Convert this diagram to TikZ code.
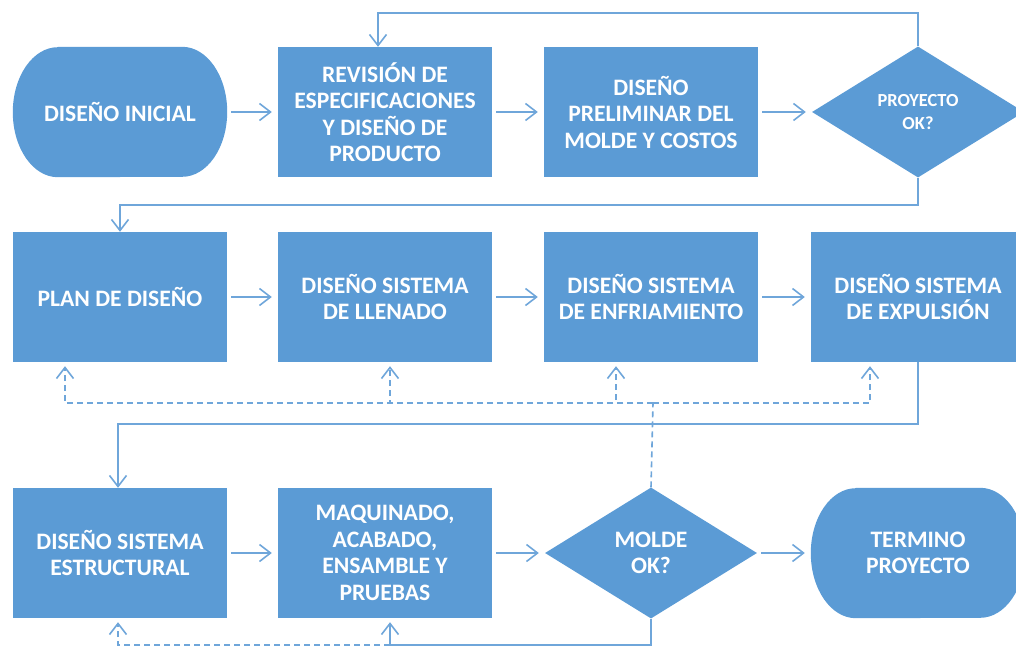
\documentclass[tikz,border=0pt]{standalone}
\usepackage{fontspec}
\setmainfont{Carlito}
\usetikzlibrary{arrows.meta,shapes.geometric,backgrounds}
\definecolor{flowblue}{HTML}{5B9BD5}
\definecolor{lineblue}{HTML}{6FA6DA}

\begin{document}
\begin{tikzpicture}[x=1pt, y=1pt,
	box/.style={rectangle, fill=flowblue, minimum width=214pt, minimum height=130pt, inner sep=0pt,
		text=white, align=center, font=\fontsize{23.6}{26.5}\selectfont\bfseries},
	term/.style={box, fill=none},
	decision/.style={box, diamond, minimum width=212pt, minimum height=131pt},
	link/.style={draw=lineblue, line width=1.6pt, -{Straight Barb[length=11pt, width=17pt, line width=1.6pt]}},
	plain/.style={draw=lineblue, line width=1.6pt},
	dashlink/.style={link, dash pattern=on 6pt off 4pt},
	dashplain/.style={plain, dash pattern=on 6pt off 4pt}]
	\useasboundingbox (0,0) rectangle (1016,-647);

	% first row
	\node[term] (ini) at (120,-112) {DISEÑO INICIAL};
	\node[box] (rev) at (385,-112) {REVISIÓN DE\\ESPECIFICACIONES\\Y DISEÑO DE\\PRODUCTO};
	\node[box] (pre) at (651,-112) {DISEÑO\\PRELIMINAR DEL\\MOLDE Y COSTOS};
	\node[decision, font=\fontsize{18.4}{23}\selectfont\bfseries] (pok) at (918,-112) {PROYECTO\\OK?};

	% second row
	\node[box] (plan) at (120,-297) {PLAN DE DISEÑO};
	\node[box] (lle) at (385,-297) {DISEÑO SISTEMA\\DE LLENADO};
	\node[box] (enf) at (651,-297) {DISEÑO SISTEMA\\DE ENFRIAMIENTO};
	\node[box] (exp) at (918,-297) {DISEÑO SISTEMA\\DE EXPULSIÓN};

	% third row
	\node[box] (est) at (120,-553) {DISEÑO SISTEMA\\ESTRUCTURAL};
	\node[box] (maq) at (385,-553) {MAQUINADO,\\ACABADO,\\ENSAMBLE Y\\PRUEBAS};
	\node[decision] (mok) at (651,-553) {MOLDE\\OK?};
	\node[term] (fin) at (918,-553) {TERMINO\\PROYECTO};

	% terminator outlines
	\begin{scope}[on background layer]
		\foreach \t in {ini,fin}
			\fill[flowblue] ([xshift=45pt]\t.north west) -- ([xshift=-45pt]\t.north east)
				arc[start angle=90, end angle=-90, x radius=45pt, y radius=65pt]
				-- ([xshift=45pt]\t.south west)
				arc[start angle=270, end angle=90, x radius=45pt, y radius=65pt] -- cycle;
	\end{scope}

	% straight flow
	\foreach \a/\b in {ini/rev, rev/pre, pre/pok, plan/lle, lle/enf, enf/exp, est/maq, maq/mok, mok/fin}
		\draw[link, shorten <=4pt, shorten >=6pt] (\a) -- (\b);

	% returns and row changes
	\coordinate (top) at (0,-13);
	\coordinate (mid) at (0,-205);
	\coordinate (low) at (0,-424);
	\coordinate (hub) at (653,-403);
	\coordinate (bot) at (0,-645);
	\draw[link] (pok.north) -- (pok.north |- top) -| ([xshift=-7pt]rev.north);
	\draw[link] (pok.south) -- (pok.south |- mid) -| (plan.north);
	\draw[link] (exp.south) -- (exp.south |- low) -| ([xshift=-2pt]est.north);

	% design revision paths
	\draw[dashplain] (mok.north) -- (hub);
	\draw[dashlink, shorten >=4pt] (hub) -| ([xshift=-55pt]plan.south);
	\draw[dashlink, shorten >=4pt] (hub) -| ([xshift=5pt]lle.south);
	\draw[dashlink, shorten >=4pt] (hub) -| ([xshift=-35pt]enf.south);
	\draw[dashlink, shorten >=4pt] (hub) -| ([xshift=-48pt]exp.south);

	% bottom return
	\draw[link, shorten >=4pt] (mok.south) -- (mok.south |- bot) -| ([xshift=5pt]maq.south);
	\draw[dashlink, shorten >=4pt] ([xshift=5pt]maq.south |- bot) -| ([xshift=-2pt]est.south);
\end{tikzpicture}
\end{document}
